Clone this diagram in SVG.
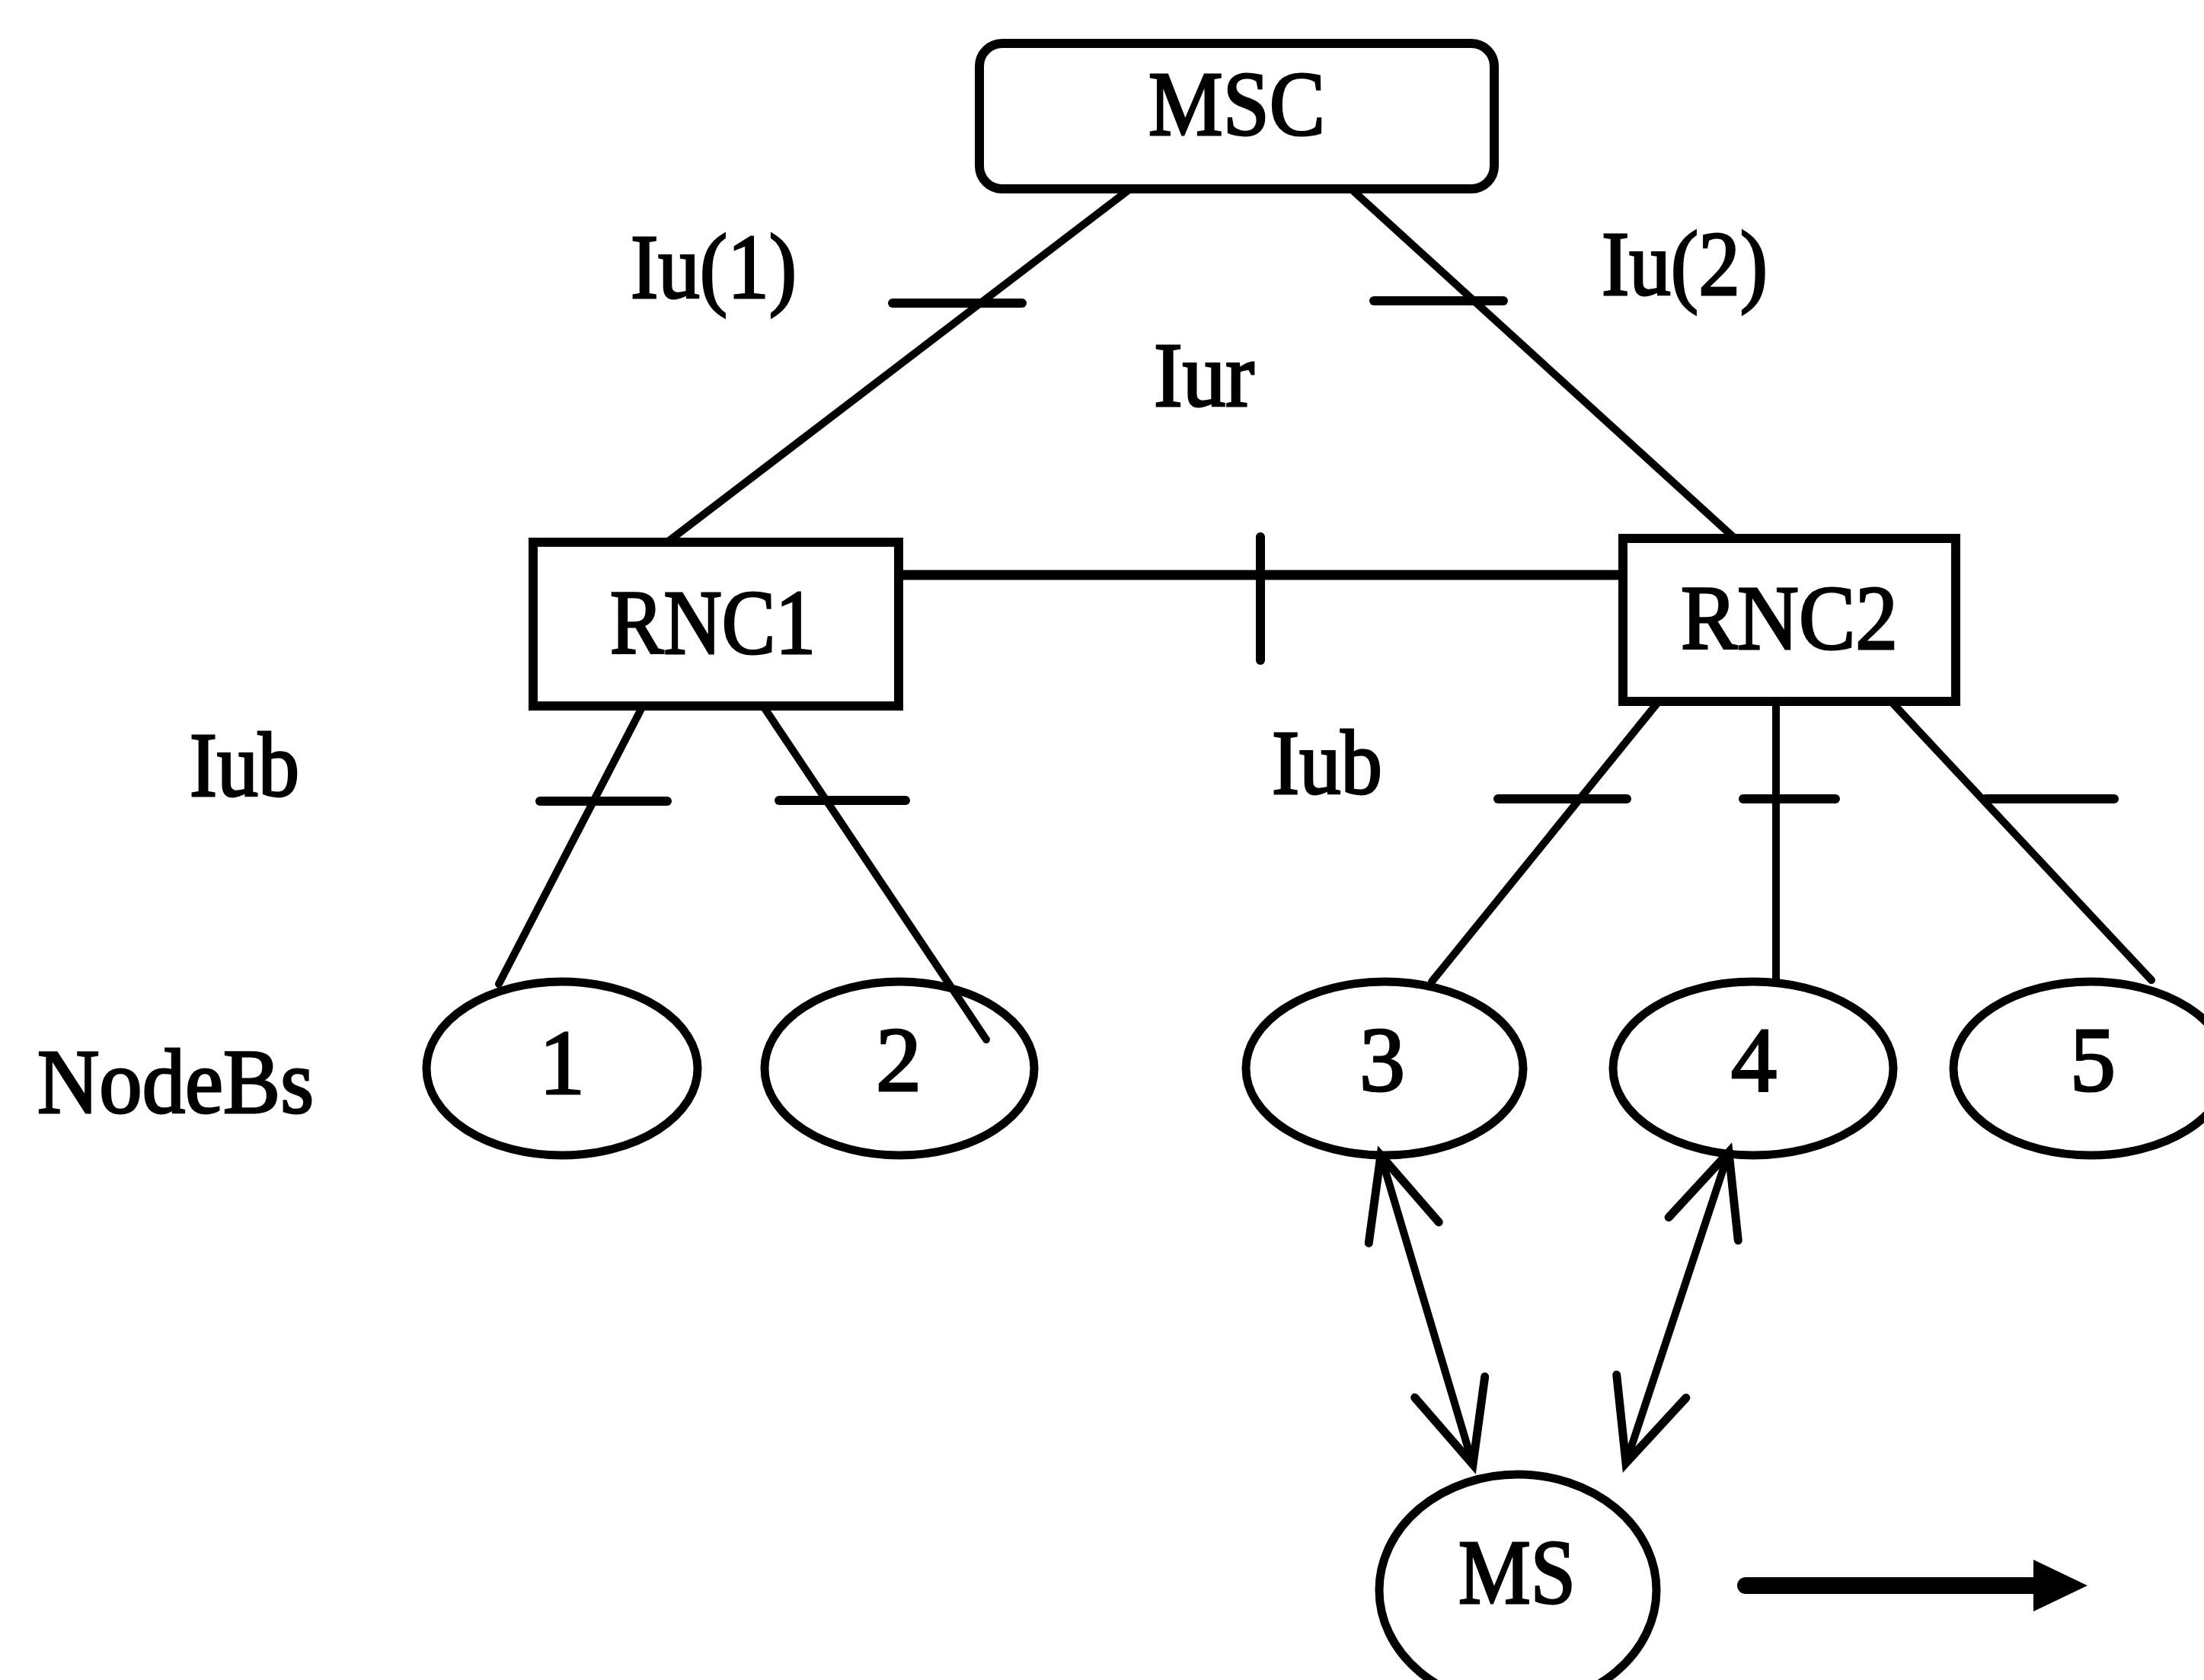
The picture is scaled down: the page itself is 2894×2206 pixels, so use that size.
<svg xmlns="http://www.w3.org/2000/svg" width="2894" height="2206" viewBox="0 0 2894 2206">
<style>
  .box { fill: #fff; stroke: #000; stroke-width: 12; }
  .node { fill: none; stroke: #000; stroke-width: 11; }
  .lbl { font-family: "Liberation Serif", "Times New Roman", serif; font-size: 120px; fill: #000; stroke: #000; stroke-width: 3; }
  .num { text-anchor: middle; }
  .link { stroke: #000; stroke-width: 10; fill: none; stroke-linecap: round; }
  .tick { stroke: #000; stroke-width: 12; fill: none; stroke-linecap: round; }
  .arr { stroke: #000; stroke-width: 10; fill: none; marker-start: url(#vhead); marker-end: url(#vhead); }
</style>
<defs>
  <marker id="vhead" markerUnits="userSpaceOnUse" orient="auto-start-reverse" markerWidth="300" markerHeight="300" refX="0" refY="0" viewBox="-150 -150 300 300" overflow="visible">
    <path d="M -106 -48 L 0 0 L -106 48" fill="none" stroke="#000" stroke-width="11" stroke-linecap="round" stroke-linejoin="miter"/>
  </marker>
</defs>
<rect width="2894" height="2206" fill="#fff"/>

<g id="connectors">
  <line class="link" x1="1484" y1="248" x2="876" y2="712"/>
  <line class="link" x1="1774" y1="248" x2="2278" y2="707"/>
  <line class="link" x1="1180" y1="755" x2="2131" y2="755" style="stroke-width:13"/>
  <line class="link" x1="844" y1="927" x2="655" y2="1292"/>
  <line class="link" x1="1002" y1="927" x2="1295" y2="1365"/>
  <line class="link" x1="2178" y1="921" x2="1880" y2="1289"/>
  <line class="link" x1="2332" y1="921" x2="2332" y2="1289"/>
  <line class="link" x1="2483" y1="921" x2="2825" y2="1287"/>
  <line class="tick" x1="1172" y1="398" x2="1342" y2="398"/>
  <line class="tick" x1="1804" y1="395" x2="1974" y2="395"/>
  <line class="tick" x1="1655" y1="705" x2="1655" y2="867"/>
  <line class="tick" x1="709" y1="1052" x2="876" y2="1052"/>
  <line class="tick" x1="1023" y1="1051" x2="1189" y2="1051"/>
  <line class="tick" x1="1967" y1="1049" x2="2136" y2="1049"/>
  <line class="tick" x1="2289" y1="1049" x2="2410" y2="1049"/>
  <line class="tick" x1="2607" y1="1049" x2="2776" y2="1049"/>
  <line class="arr" x1="1813" y1="1517" x2="1934" y2="1923"/>
  <line class="arr" x1="2270" y1="1513" x2="2135" y2="1921"/>
  <line x1="2292" y1="2082" x2="2680" y2="2082" stroke="#000" stroke-width="22" stroke-linecap="round"/>
  <polygon points="2670,2048 2741,2082 2670,2116" fill="#000"/>
</g>

<g id="labels">
  <text class="lbl" x="828" y="391" textLength="218" lengthAdjust="spacingAndGlyphs">Iu(1)</text>
  <text class="lbl" x="2103" y="387" textLength="218" lengthAdjust="spacingAndGlyphs">Iu(2)</text>
  <text class="lbl" x="1515" y="533" textLength="132" lengthAdjust="spacingAndGlyphs">Iur</text>
  <text class="lbl" x="249" y="1045" textLength="144" lengthAdjust="spacingAndGlyphs">Iub</text>
  <text class="lbl" x="1670" y="1042" textLength="145" lengthAdjust="spacingAndGlyphs">Iub</text>
  <text class="lbl" x="49" y="1461" textLength="363" lengthAdjust="spacingAndGlyphs">NodeBs</text>
</g>

<g id="msc">
  <rect class="box" x="1286" y="57" width="676" height="191" rx="30" ry="30"/>
  <text class="lbl" x="1508" y="177" textLength="232" lengthAdjust="spacingAndGlyphs">MSC</text>
</g>
<g id="rnc1">
  <rect class="box" x="700" y="712" width="480" height="215"/>
  <text class="lbl" x="801" y="858" textLength="270" lengthAdjust="spacingAndGlyphs">RNC1</text>
</g>
<g id="rnc2">
  <rect class="box" x="2131" y="707" width="437" height="214"/>
  <text class="lbl" x="2207" y="852" textLength="285" lengthAdjust="spacingAndGlyphs">RNC2</text>
</g>
<g id="nodeb1">
  <ellipse class="node" cx="738" cy="1403" rx="178" ry="114"/>
  <text class="lbl num" x="738" y="1436">1</text>
</g>
<g id="nodeb2">
  <ellipse class="node" cx="1181" cy="1403" rx="177" ry="114"/>
  <text class="lbl num" x="1180" y="1432">2</text>
</g>
<g id="nodeb3">
  <ellipse class="node" cx="1818" cy="1403" rx="182" ry="114"/>
  <text class="lbl num" x="1815" y="1432">3</text>
</g>
<g id="nodeb4">
  <ellipse class="node" cx="2302" cy="1403" rx="184" ry="114"/>
  <text class="lbl num" x="2303" y="1432">4</text>
</g>
<g id="nodeb5">
  <ellipse class="node" cx="2745" cy="1403" rx="180" ry="114"/>
  <text class="lbl num" x="2748" y="1432">5</text>
</g>
<g id="ms">
  <ellipse class="node" cx="1993" cy="2088" rx="182" ry="152"/>
  <text class="lbl" x="1915" y="2105" textLength="154" lengthAdjust="spacingAndGlyphs">MS</text>
</g>
</svg>
